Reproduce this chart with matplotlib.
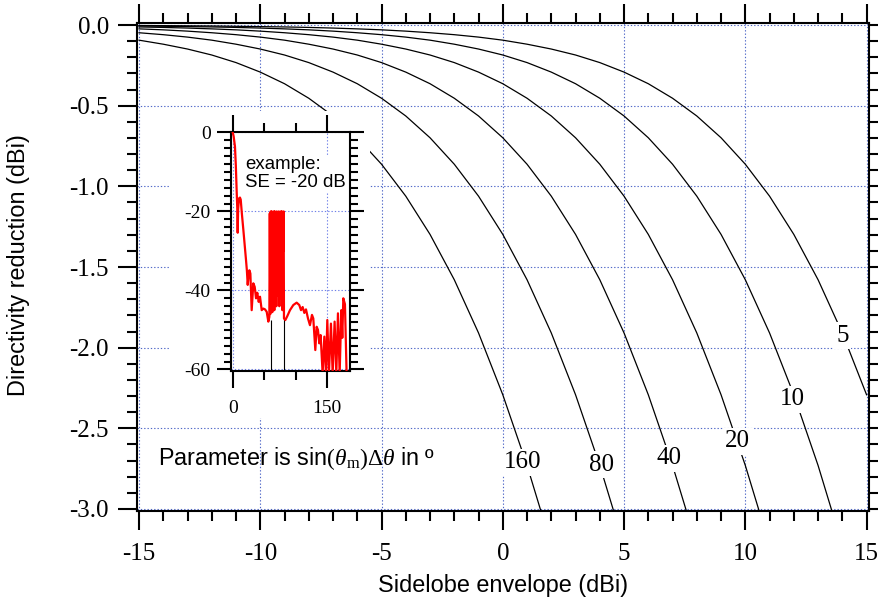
import matplotlib
matplotlib.use('Agg')
import matplotlib.pyplot as plt
from matplotlib.ticker import MultipleLocator, FormatStrFormatter
from matplotlib.patches import Rectangle

plt.rcParams['axes.unicode_minus'] = False
plt.rcParams['mathtext.fontset'] = 'custom'
plt.rcParams['mathtext.rm'] = 'Liberation Serif'
plt.rcParams['mathtext.it'] = 'Liberation Serif:italic'
plt.rcParams['mathtext.sf'] = 'Liberation Sans'
plt.rcParams['font.family'] = ['Liberation Sans', 'DejaVu Sans']

# ---------------- data ----------------
se_dbi = [-15, -14, -13, -12, -11, -10, -9, -8, -7, -6, -5, -4, -3, -2, -1,
          0, 1, 2, 3, 4, 5, 6, 7, 8, 9, 10, 11, 12, 13, 14, 15]

red_p5 = [-0.003, -0.004, -0.005, -0.006, -0.008, -0.010, -0.012, -0.015, -0.019,
          -0.024, -0.030, -0.038, -0.048, -0.060, -0.075, -0.094, -0.119, -0.149,
          -0.186, -0.233, -0.292, -0.364, -0.454, -0.564, -0.699, -0.863, -1.061,
          -1.298, -1.579, -1.909, -2.292]
red_p10 = [-0.006, -0.008, -0.010, -0.012, -0.015, -0.019, -0.024, -0.030, -0.038,
           -0.048, -0.060, -0.075, -0.094, -0.119, -0.149, -0.186, -0.233, -0.292,
           -0.364, -0.454, -0.564, -0.699, -0.863, -1.061, -1.298, -1.579, -1.909,
           -2.292, -2.730, -3.225]
red_p20 = [-0.012, -0.015, -0.019, -0.024, -0.030, -0.038, -0.048, -0.060, -0.075,
           -0.094, -0.119, -0.149, -0.186, -0.233, -0.292, -0.364, -0.454, -0.564,
           -0.699, -0.863, -1.061, -1.298, -1.579, -1.909, -2.292, -2.730, -3.225]
red_p40 = [-0.024, -0.030, -0.038, -0.048, -0.060, -0.075, -0.094, -0.119, -0.149,
           -0.186, -0.233, -0.292, -0.364, -0.454, -0.564, -0.699, -0.863, -1.061,
           -1.298, -1.579, -1.909, -2.292, -2.730, -3.225]
red_p80 = [-0.048, -0.060, -0.075, -0.094, -0.119, -0.149, -0.186, -0.233, -0.292,
           -0.364, -0.454, -0.564, -0.699, -0.863, -1.061, -1.298, -1.579, -1.909,
           -2.292, -2.730, -3.225]
red_p160 = [-0.094, -0.119, -0.149, -0.186, -0.233, -0.292, -0.364, -0.454, -0.564,
            -0.699, -0.863, -1.061, -1.298, -1.579, -1.909, -2.292, -2.730, -3.225]

param_labels = ['5', '10', '20', '40', '80', '160']
curves = [red_p5, red_p10, red_p20, red_p40, red_p80, red_p160]

# inset example pattern (deg, dB)
pat_deg = [0, 1.5, 3.6, 5.0, 6.3, 7.2, 7.9, 8.6, 10.0, 11.5, 12.7, 14.5, 16.9, 19.0,
           21.1, 22.5, 23.8, 25.0, 26.4, 28.0, 30.1, 32.7, 34.9, 37.0, 39.0, 41.2,
           43.3, 46.0, 48.6, 51.2, 53.9, 56.5, 58.1,
           58.8, 59.6, 60.4, 61.2, 62.0, 62.8, 63.6, 64.4, 65.2, 66.0, 66.8, 67.6,
           68.4, 69.2, 70.0, 70.8, 71.6, 72.4, 73.2, 74.0, 74.8, 75.6, 76.4, 77.2,
           78.0, 78.8, 79.6, 80.4, 80.8, 81.3,
           83.5, 86.6, 90.8, 96.1, 101.4, 105.6, 108.3, 110.9, 113.6, 116.2, 119.4,
           122.5, 125.7, 127.8, 131.0, 133.1, 135.2, 137.3, 139.4, 142.6, 145.3,
           147.9, 150.0, 152.6, 155.8, 158.5, 161.6, 164.3, 166.9, 169.6, 172.2,
           173.8, 175.4, 178.0, 180.6]
pat_db = [0, -1.0, -3.6, -8.5, -15.0, -19.0, -25.4, -19.5, -16.7, -16.5, -17.0, -20.5,
          -24.7, -28.5, -32.3, -35.0, -38.6, -36.5, -34.9, -35.7, -45.0, -38.2, -39.1,
          -42.0, -40.6, -42.9, -41.6, -45.0, -44.6, -44.8, -45.4, -47.9, -46.7,
          -20.5, -46.0, -20.0, -40.0, -20.0, -45.5, -21.0, -40.3, -20.0, -45.0,
          -20.0, -35.0, -20.5, -44.0, -20.0, -41.2, -20.5, -36.0, -20.0, -44.0,
          -21.0, -38.0, -20.0, -42.0, -20.0, -45.0, -20.5, -30.0, -20.0, -47.1,
          -47.5, -46.5, -45.0, -43.7, -43.1, -43.7, -45.0, -44.2, -45.7, -44.8,
          -47.1, -48.8, -46.2, -47.1, -55.1, -49.2, -50.0, -53.4, -51.3, -61.0,
          -51.7, -61.0, -47.5, -61.0, -48.4, -61.0, -47.9, -61.0, -45.8, -61.0,
          -45.0, -52.0, -42.0, -43.5, -61.0]
sector_edges = [60.2, 80.8]
sector_tops = [-47.5, -46.8]

# ---------------- figure ----------------
fig = plt.figure(figsize=(8.79, 6.03), dpi=100)
ax = fig.add_axes([137/879, 1-511/603, 732/879, 488/603])

grid_kw = dict(color='#5068c8', linestyle=(0, (1.2, 1.8)), linewidth=0.8)

for yv in curves:
    ax.plot(se_dbi[:len(yv)], yv, color='black', linewidth=0.9, zorder=2)

ax.set_xlim(-15.083, 15.1)
ax.set_ylim(-3.0124, 0.0124)
ax.xaxis.set_major_locator(MultipleLocator(5))
ax.xaxis.set_minor_locator(MultipleLocator(1))
ax.yaxis.set_major_locator(MultipleLocator(0.5))
ax.yaxis.set_minor_locator(MultipleLocator(0.1))
ax.yaxis.set_major_formatter(FormatStrFormatter('%.1f'))
ax.xaxis.set_major_formatter(FormatStrFormatter('%d'))
ax.grid(True, which='major', **grid_kw)
ax.set_axisbelow('line')

ax.tick_params(which='both', direction='out', top=True, right=True,
               labeltop=False, labelright=False, width=1.5,
               labelsize=18, labelfontfamily='Liberation Serif')
ax.tick_params(which='major', length=13.7)
ax.tick_params(which='minor', length=7.2)
ax.tick_params(axis='x', which='major', pad=9.0)
ax.tick_params(axis='y', which='major', pad=6.5)
for s in ax.spines.values():
    s.set_linewidth(1.5)

# curve labels
label_x = [14.0, 11.95, 9.68, 6.87, 4.06, 0.83]
label_y = [-1.963, -2.356, -2.618, -2.722, -2.763, -2.747]
for lab, lx, ly in zip(param_labels, label_x, label_y):
    ax.text(lx, ly, lab, ha='center', va='baseline', fontsize=18,
            family='Liberation Serif', zorder=3,
            bbox=dict(boxstyle='square,pad=0.1', facecolor='white', edgecolor='none'))

ax.text(-14.22, -2.728, r'Parameter is sin$(\theta_{\mathrm{m}})\Delta\theta$ in º',
        fontsize=16.8, ha='left', va='baseline', family='Liberation Sans', zorder=3)

fig.text(503/879, 1-592/603, 'Sidelobe envelope (dBi)', fontsize=16.9,
         ha='center', va='baseline', family='Liberation Sans')
fig.text(19/879, 1-265/603, 'Directivity reduction (dBi)', fontsize=16.9,
         rotation=90, ha='center', va='center', family='Liberation Sans')

# ---------------- inset ----------------
fig.add_artist(Rectangle((170/879, 1-418/603), 200/879, 307/603,
                         transform=fig.transFigure, facecolor='white',
                         edgecolor='none', zorder=3))
axi = fig.add_axes([231/879, 1-371/603, 119/879, 239/603], zorder=5)
axi.vlines(sector_edges, -61, sector_tops, color='black', linewidth=0.8, zorder=2)
axi.plot(pat_deg, pat_db, color='#ff0000', linewidth=1.6, zorder=3)
axi.set_xlim(-2.7, 186)
axi.set_ylim(-60.4, 0.1)
axi.xaxis.set_major_locator(MultipleLocator(150))
axi.xaxis.set_minor_locator(MultipleLocator(50))
axi.yaxis.set_major_locator(MultipleLocator(20))
axi.yaxis.set_minor_locator(MultipleLocator(2))
axi.xaxis.set_major_formatter(FormatStrFormatter('%d'))
axi.yaxis.set_major_formatter(FormatStrFormatter('%d'))
axi.grid(True, which='major', color='#6f80e8', linestyle=(0, (1.2, 1.8)), linewidth=0.8)
axi.set_axisbelow('line')
axi.tick_params(which='both', direction='out', top=True, right=True,
                labeltop=False, labelright=False, width=1.5,
                labelsize=14, labelfontfamily='Liberation Serif')
axi.tick_params(axis='x', which='major', length=12, pad=9)
axi.tick_params(axis='x', which='minor', length=6.5)
axi.tick_params(axis='y', which='major', length=10, pad=4.5)
axi.tick_params(axis='y', which='minor', length=5.4)
for s in axi.spines.values():
    s.set_linewidth(1.5)
axi.text(19.5, -6.0, 'example:\nSE = -20 dB', fontsize=13.4, ha='left', va='top',
         linespacing=1.1, family='Liberation Sans', zorder=4,
         bbox=dict(boxstyle='square,pad=0.05', facecolor='white', edgecolor='none'))

fig.savefig('out.png', dpi=100)
